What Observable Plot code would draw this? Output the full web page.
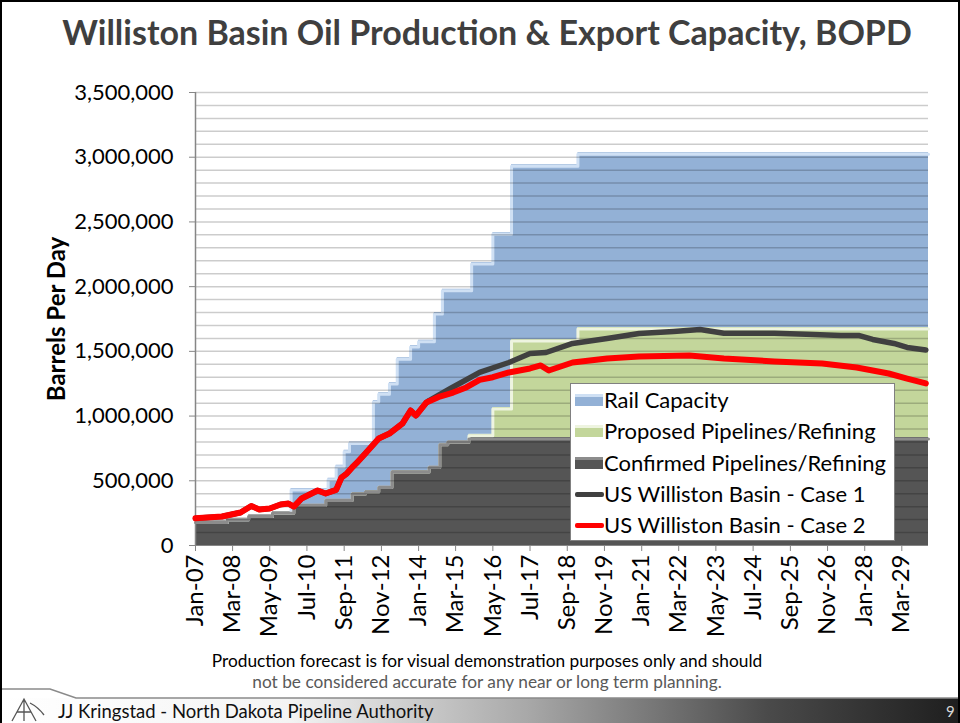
<!DOCTYPE html>
<html><head><meta charset="utf-8">
<script src="https://cdn.jsdelivr.net/npm/d3@7"></script>
<script src="https://cdn.jsdelivr.net/npm/@observablehq/plot@0.6"></script>
<style>
html,body{margin:0;padding:0;background:#fff;}
#slide{position:relative;width:960px;height:723px;overflow:hidden;background:#fff;font-family:Lato, "Open Sans", sans-serif;}
#frame{position:absolute;left:0;top:0;width:956px;height:721px;border:2px solid #000;border-bottom:none;pointer-events:none;}
#title{position:absolute;left:0;width:974px;top:11px;text-align:center;font-weight:bold;font-size:34px;color:#3f3f3f;white-space:nowrap;}
#chart{position:absolute;left:0;top:70px;}
#legend{position:absolute;left:570px;top:383px;width:323px;height:156px;border:1px solid #808080;background:#fff;}
.lrow{position:absolute;left:0;height:30px;width:320px;}
.lrow span.t{position:absolute;left:33px;top:2px;font-size:22px;color:#000;white-space:nowrap;line-height:26px;}
.sw{position:absolute;left:4px;top:9px;width:28px;height:12px;}
.ln{position:absolute;left:4px;top:13px;width:29px;height:5px;border-radius:2px;}
#note1,#note2{position:absolute;left:0;width:974px;text-align:center;font-size:17.3px;white-space:nowrap;}
#note1{top:650px;color:#000;}
#note2{top:671px;color:#595959;}
#footer{position:absolute;left:0;top:683px;}
</style></head>
<body>
<div id="slide">
  <div id="title">Williston Basin Oil Production &amp; Export Capacity, BOPD</div>
  <div id="chart"></div>
  <div id="legend"></div>
  <div id="note1">Production forecast is for visual demonstration purposes only and should</div>
  <div id="note2">not be considered accurate for any near or long term planning.</div>
  <svg id="footer" width="960" height="40">
    <defs><linearGradient id="fg" x1="0" x2="1" y1="0" y2="0">
      <stop offset="0" stop-color="#ffffff"/><stop offset="0.3" stop-color="#f4f4f4"/>
      <stop offset="0.55" stop-color="#a8a8a8"/><stop offset="0.8" stop-color="#4a4a4a"/>
      <stop offset="1" stop-color="#1e1e1e"/></linearGradient></defs>
    <rect x="0" y="15" width="960" height="25" fill="url(#fg)"/>
    <path d="M0,6 H50 L76,15 H960" stroke="#8a8a8a" fill="none" stroke-width="1.5"/>
    <g stroke="#555" stroke-width="1.3" fill="none">
      <path d="M12,38 L24,16 L36,38 M17,29 H31 M24,16 V38"/>
      <path d="M30,20 q8,4 14,12"/>
    </g>
    <text x="58" y="35" font-family="Lato, sans-serif" font-size="18.5" fill="#111">JJ Kringstad - North Dakota Pipeline Authority</text>
    <text x="946" y="34" font-family="Lato, sans-serif" font-size="15" fill="#d8d8d8">9</text>
  </svg>
  <div id="frame"></div>
</div>
<script>
// ---------- DATA (thousand barrels per day) ----------
const capDates = ["2007-01","2008-01","2008-09","2009-06","2010-01","2010-02","2011-02","2011-03","2011-06","2011-09",
  "2011-11","2011-12","2012-05","2012-08","2012-10","2013-02","2013-03","2013-05","2013-10","2014-01",
  "2014-05","2014-07","2014-09","2014-10","2014-12","2015-08","2015-09","2016-05","2016-12","2019-01","2030-01"];
const confirmed = [190,210,235,260,260,320,360,360,360,360,
  360,410,425,425,460,460,580,580,580,580,
  615,615,790,790,810,835,835,835,835,835,835];
const proposed = [0,0,0,0,0,0,0,0,0,0,
  0,0,0,0,0,0,0,0,0,0,
  0,0,0,0,0,25,25,231,757,850,850];
const rail = [0,0,0,0,180,120,80,160,260,375,
  440,390,375,695,720,800,680,870,965,1005,
  970,1185,1010,1190,1170,1120,1326,1350,1350,1350,1350];

const case1Dates = ["2007-01","2007-11","2008-06","2008-10","2009-01","2009-05","2009-09","2009-12","2010-02","2010-05",
  "2010-11","2011-02","2011-06","2011-08","2011-10","2011-12","2012-02","2012-05","2012-10","2013-02",
  "2013-07","2013-10","2013-12","2014-04","2014-05","2015-01","2015-12","2016-11","2017-07","2018-01",
  "2018-11","2019-12","2020-12","2022-01","2022-11","2023-08","2025-03","2026-03","2027-04","2027-11",
  "2028-04","2028-12","2029-05","2029-12"];
const case1 = [210,224,255,305,278,286,317,324,301,363,
  425,402,430,525,556,603,645,711,827,865,
  943,1043,1004,1105,1120,1213,1337,1414,1483,1491,
  1561,1599,1638,1653,1669,1640,1640,1632,1622,1622,
  1592,1561,1530,1510];

const case2Dates = ["2007-01","2007-11","2008-06","2008-10","2009-01","2009-05","2009-09","2009-12","2010-02","2010-05",
  "2010-11","2011-02","2011-06","2011-08","2011-10","2011-12","2012-02","2012-05","2012-10","2013-02",
  "2013-07","2013-10","2013-12","2014-04","2014-09","2015-02","2015-07","2015-12","2016-05","2016-11",
  "2017-07","2017-11","2018-02","2018-11","2019-12","2020-12","2022-07","2023-08","2025-03","2026-09",
  "2027-10","2028-10","2029-05","2029-12"];
const case2 = [210,224,255,305,278,286,317,324,301,363,
  425,402,430,525,556,603,645,711,827,865,
  943,1043,1004,1105,1151,1182,1221,1280,1300,1337,
  1368,1391,1352,1414,1445,1460,1468,1445,1422,1406,
  1375,1329,1290,1252];

const xTickLabels = ["Jan-07","Mar-08","May-09","Jul-10","Sep-11","Nov-12","Jan-14","Mar-15","May-16","Jul-17",
  "Sep-18","Nov-19","Jan-21","Mar-22","May-23","Jul-24","Sep-25","Nov-26","Jan-28","Mar-29"];
const yTicks = [0,500000,1000000,1500000,2000000,2500000,3000000,3500000];

const legendItems = [
  {label:"Rail Capacity", kind:"area", color:"#93b1d6", hi:"#cfe0f4"},
  {label:"Proposed Pipelines/Refining", kind:"area", color:"#c3d69b", hi:"#eef4e0"},
  {label:"Confirmed Pipelines/Refining", kind:"area", color:"#555555", hi:"#8c8c8c"},
  {label:"US Williston Basin - Case 1", kind:"line", color:"#404040"},
  {label:"US Williston Basin - Case 2", kind:"line", color:"#ff0000"}
];

// ---------- BUILD ----------
const K = 1000;
const parseYM = d3.utcParse("%Y-%m");
const parseTick = d3.utcParse("%b-%y");
const capTable = capDates.map((d,i)=>{
  const c = confirmed[i]*K, p = proposed[i]*K, r = rail[i]*K;
  return {date: parseYM(d), topC: c, topP: c+p, topR: c+p+r};
});
const c1 = case1Dates.map((d,i)=>({date: parseYM(d), value: case1[i]*K}));
const c2 = case2Dates.map((d,i)=>({date: parseYM(d), value: case2[i]*K}));
const xTickDates = xTickLabels.map(parseTick);
const grid = d3.range(100000, 3500001, 100000);

const chart = Plot.plot({
  width: 960, height: 580,
  marginLeft: 195, marginRight: 32, marginTop: 22, marginBottom: 105,
  x: {type: "utc", domain: [parseYM("2007-01"), parseYM("2030-01")]},
  y: {domain: [0, 3500000]},
  style: {fontFamily: "Lato, 'Open Sans', sans-serif", fontSize: "21px", color: "#000", background: "transparent", overflow: "visible"},
  marks: [
    Plot.areaY(capTable, {x: "date", y1: 0, y2: "topC", fill: legendItems[2].color, curve: "step-after"}),
    Plot.areaY(capTable, {x: "date", y1: "topC", y2: "topP", fill: legendItems[1].color, curve: "step-after"}),
    Plot.areaY(capTable, {x: "date", y1: "topP", y2: "topR", fill: legendItems[0].color, curve: "step-after"}),
    Plot.lineY(capTable, {x: "date", y: "topR", stroke: legendItems[0].hi, strokeWidth: 3, dy: 1.5, curve: "step-after"}),
    Plot.lineY(capTable, {x: "date", y: "topP", stroke: legendItems[1].hi, strokeWidth: 3, dy: 1.5, curve: "step-after"}),
    Plot.lineY(capTable, {x: "date", y: "topC", stroke: legendItems[2].hi, strokeWidth: 3, dy: 1.5, curve: "step-after"}),
    Plot.ruleY(grid, {stroke: "#000", strokeOpacity: 0.2, strokeWidth: 1.5}),
    Plot.ruleY([0], {stroke: "#868686", strokeWidth: 1.2}),
    Plot.ruleX([parseYM("2007-01")], {stroke: "#868686", strokeWidth: 1.5}),
    Plot.lineY(c1, {x: "date", y: "value", stroke: legendItems[3].color, strokeWidth: 5.5, strokeLinejoin: "round"}),
    Plot.lineY(c2, {x: "date", y: "value", stroke: legendItems[4].color, strokeWidth: 6, strokeLinejoin: "round"}),
    Plot.axisY({ticks: yTicks, tickFormat: d3.format(","), tickSize: 6, tickPadding: 16, stroke: "#868686", fill: "#000", label: null, fontSize: 22}),
    Plot.axisX({ticks: xTickDates, tickSize: 6, tickFormat: () => "", stroke: "#868686", fill: "none", label: null}),
    Plot.text(xTickDates, {x: d => d, text: (d, i) => xTickLabels[i], frameAnchor: "bottom", rotate: -90, textAnchor: "end", lineAnchor: "middle", dy: 9, fontSize: 24, fill: "#000"}),
    Plot.text(["Barrels Per Day"], {frameAnchor: "left", rotate: -90, dx: -138, textAnchor: "middle", fontWeight: "bold", fontSize: 24, fill: "#000"})
  ]
});
document.getElementById("chart").appendChild(chart);

// legend
const lg = document.getElementById("legend");
legendItems.forEach((it, i) => {
  const row = document.createElement("div");
  row.className = "lrow";
  row.style.top = (1 + i * 31.3) + "px";
  const sw = document.createElement("div");
  if (it.kind === "area") {
    sw.className = "sw";
    sw.style.background = it.color;
    sw.style.borderTop = "3px solid " + it.hi;
    sw.style.height = "9px";
  } else {
    sw.className = "ln";
    sw.style.background = it.color;
  }
  const t = document.createElement("span");
  t.className = "t";
  t.textContent = it.label;
  row.appendChild(sw); row.appendChild(t);
  lg.appendChild(row);
});
</script>
</body></html>
